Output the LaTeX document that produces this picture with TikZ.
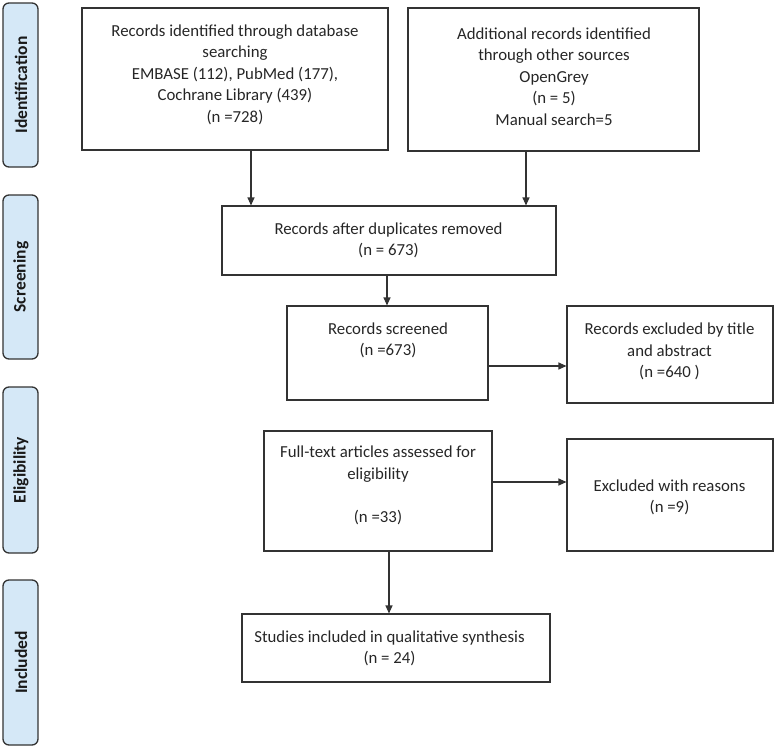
\documentclass[tikz,border=0pt]{standalone}
\usepackage{fontspec}
\setmainfont{Carlito}
\usetikzlibrary{arrows.meta}
\definecolor{barfill}{HTML}{D5E8F7}
\definecolor{lineclr}{HTML}{333333}
\tikzset{
  phase/.style={draw=lineclr, line width=1.3pt, fill=barfill, rounded corners=6pt},
  phaselbl/.style={rotate=90, font=\fontsize{17.5}{19}\selectfont\bfseries, text=black!90},
  box/.style={draw=lineclr, line width=1.1pt, inner sep=0pt},
  txt/.style={align=center, inner sep=0pt, font=\fontsize{16.8}{21.5}\selectfont, text=black!85},
  arr/.style={draw=lineclr, line width=1.1pt, -{Triangle[length=8pt,width=7pt]}}
}
\begin{document}
\begin{tikzpicture}[x=1pt,y=-1pt]
\useasboundingbox (0,0) rectangle (776,747);
% phase bars
\draw[phase] (3,3) rectangle (38,167);
\node[phaselbl] (pid) at (21,85) {Identification};
\draw[phase] (3,195) rectangle (38,359);
\node[phaselbl] (psc) at (21,277) {Screening};
\draw[phase] (3,387) rectangle (38,553);
\node[phaselbl] (pel) at (21,470) {Eligibility};
\draw[phase] (3,580) rectangle (38,745);
\node[phaselbl] (pin) at (21,662.5) {Included};
% boxes
\node[box, minimum width=306pt, minimum height=142pt] (b1) at (235,79) {};
\node[txt] (t1) at (235,74.5)
  {Records identified through database\\searching\\EMBASE (112), PubMed (177),\\Cochrane Library (439)\\(n =728)};
\node[box, minimum width=291pt, minimum height=143pt] (b2) at (553.5,79.5) {};
\node[txt] (t2) at (554,76.5)
  {Additional records identified\\through other sources\\OpenGrey\\(n = 5)\\Manual search=5};
\node[box, minimum width=334pt, minimum height=69pt] (b3) at (389,240.5) {};
\node[txt] (t3) at (388.5,240.5) {Records after duplicates removed\\(n = 673)};
\node[box, minimum width=201pt, minimum height=94pt] (b4) at (387.5,353) {};
\node[txt] (t4) at (388,340.5) {Records screened\\(n =673)};
\node[box, minimum width=206pt, minimum height=97pt] (b5) at (670,354.5) {};
\node[txt] (t5) at (669.5,351.5) {Records excluded by title\\and abstract\\(n =640 )};
\node[box, minimum width=228pt, minimum height=120pt] (b6) at (378,491) {};
\node[txt] (t6) at (378,485.5) {Full-text articles assessed for\\eligibility\\\mbox{}\\(n =33)};
\node[box, minimum width=206pt, minimum height=112pt] (b8) at (670,495) {};
\node[txt] (t8) at (669.5,497.5) {Excluded with reasons\\(n =9)};
\node[box, minimum width=308pt, minimum height=68pt] (b7) at (396,648) {};
\node[txt] (t7) at (389.5,648.5) {Studies included in qualitative synthesis\\(n = 24)};
% connectors
\draw[arr] (b1.south -| 251,0) -- (b3.north -| 251,0);
\draw[arr] (b2.south -| 526,0) -- (b3.north -| 526,0);
\draw[arr] (b3.south -| 387,0) -- (b4.north -| 387,0);
\draw[arr] (b4.east |- 0,366) -- (b5.west |- 0,366);
\draw[arr] (b6.east |- 0,482) -- (b8.west |- 0,482);
\draw[arr] (b6.south -| 389,0) -- (b7.north -| 389,0);
\end{tikzpicture}
\end{document}
